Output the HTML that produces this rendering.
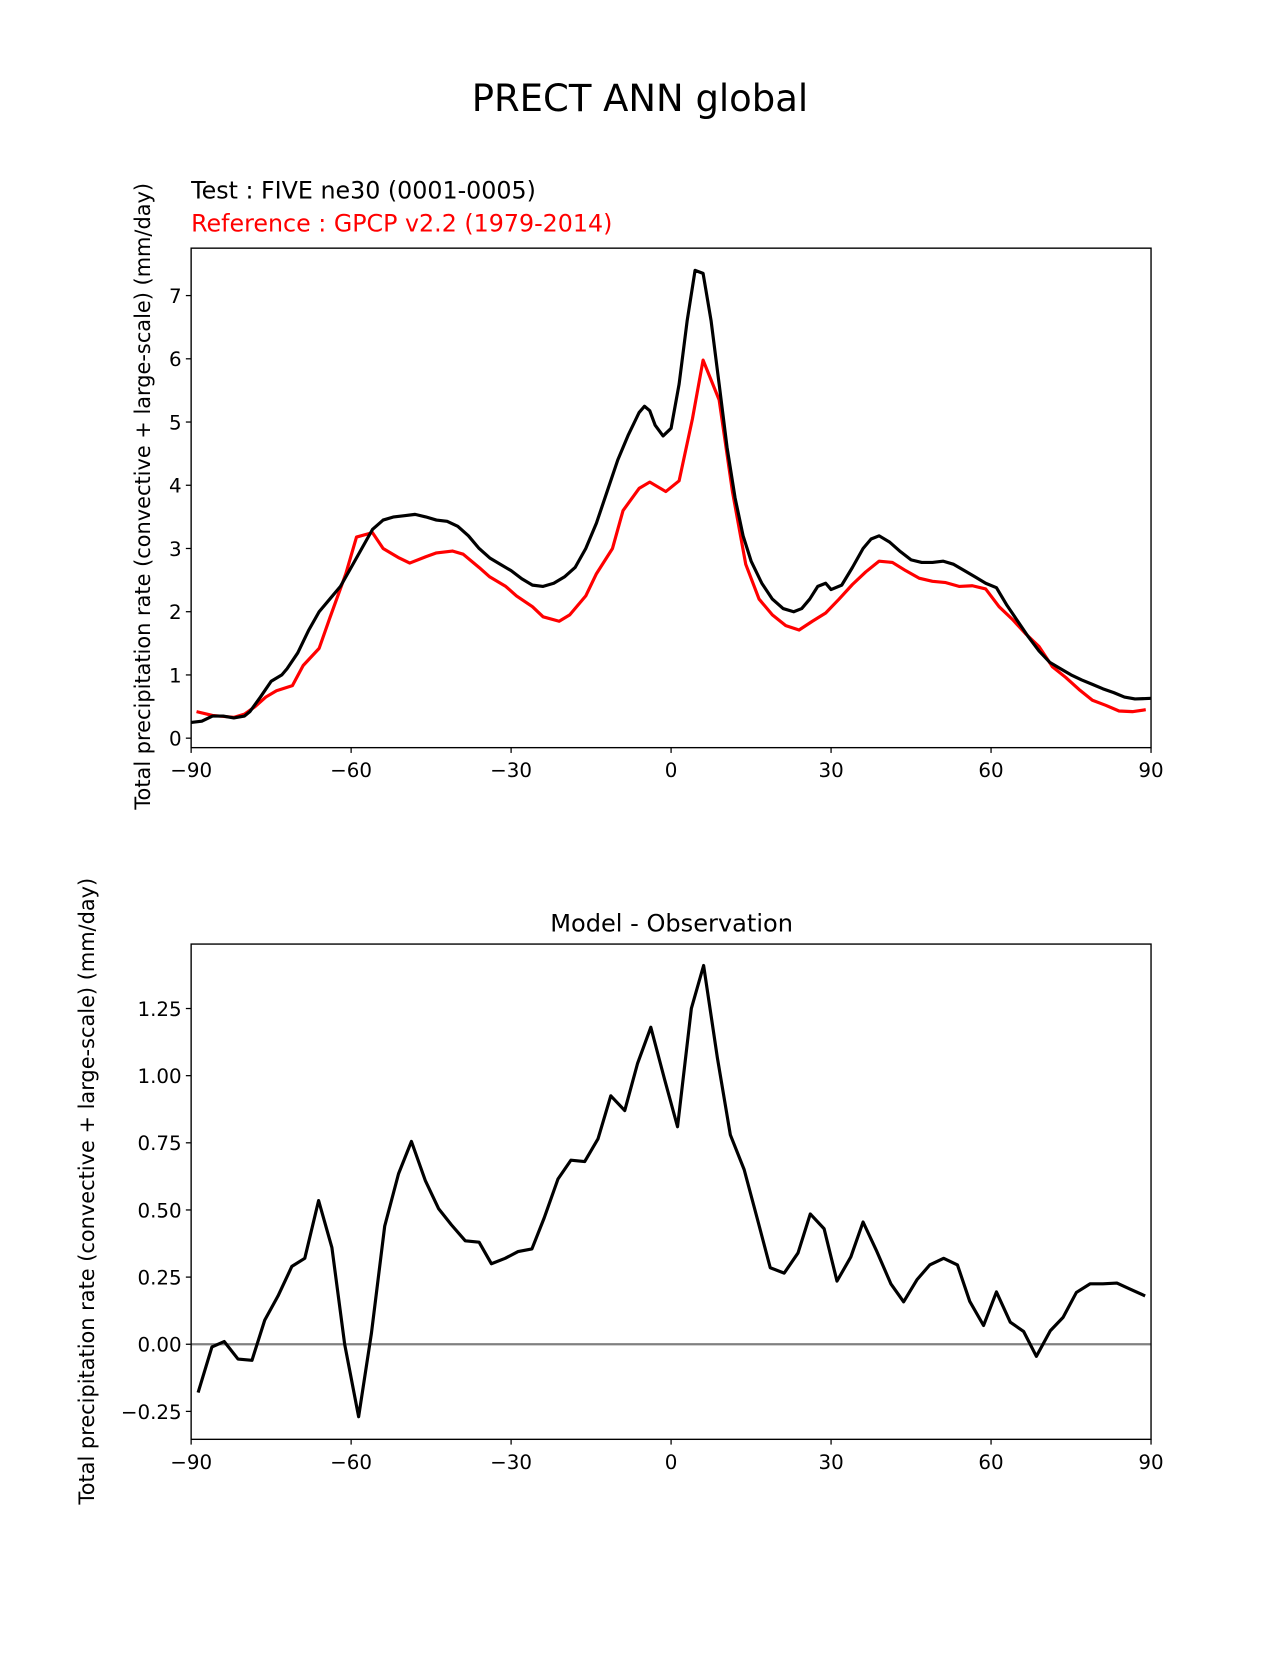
<!DOCTYPE html>
<html><head><meta charset="utf-8"><style>
body{margin:0;background:#fff}
svg text{font-family:"DejaVu Sans","Liberation Sans",sans-serif}
</style></head><body>
<svg id="fig" width="1275" height="1650" viewBox="0 0 1275 1650" xmlns="http://www.w3.org/2000/svg">
<rect width="1275" height="1650" fill="#fff"/>
<g transform="scale(1.056)">
<text x="606" y="105" font-size="35" text-anchor="middle">PRECT ANN global</text>
<text x="181" y="188" font-size="22.5">Test : FIVE ne30 (0001-0005)</text>
<text x="181" y="219" font-size="22.5" fill="#ff0000">Reference : GPCP v2.2 (1979-2014)</text>
<text transform="translate(142,470) rotate(-90)" font-size="19.8" text-anchor="middle">Total precipitation rate (convective + large-scale) (mm/day)</text>
<text x="636" y="882" font-size="22.8" text-anchor="middle">Model - Observation</text>
<text transform="translate(89,1128) rotate(-90)" font-size="19.8" text-anchor="middle">Total precipitation rate (convective + large-scale) (mm/day)</text>
<g id="top"></g><g id="bot"></g>
</g>
</svg>
<script>
const testLat=[-90,-88,-86,-84,-82,-80,-79,-77,-75,-73,-72,-70,-68,-66,-64,-62,-60,-58,-56,-54,-52,-50,-48,-46,-44,-42,-40,-38,-36,-34,-32,-30,-28,-26,-24,-22,-20,-18,-16,-14,-12,-10,-8,-6,-5,-4,-3,-1.5,0,1.5,3,4.5,6,7.5,9,10.5,12,13.5,15,17,19,21,23,24.5,26,27.5,29,30,32,34,36,37.5,39,41,43,45,47,49,51,53,55,57,59,61,63,65,67,69,71,73,75,77,79,81,83,85,87,90];
const testVal=[0.25,0.27,0.35,0.35,0.32,0.35,0.42,0.65,0.9,1.0,1.1,1.35,1.7,2.0,2.2,2.4,2.7,3.0,3.3,3.45,3.5,3.52,3.54,3.5,3.45,3.43,3.35,3.2,3.0,2.85,2.75,2.65,2.52,2.42,2.4,2.45,2.55,2.7,3.0,3.4,3.9,4.4,4.8,5.15,5.25,5.18,4.95,4.78,4.9,5.6,6.6,7.4,7.35,6.6,5.6,4.6,3.8,3.2,2.8,2.45,2.2,2.05,2.0,2.05,2.2,2.4,2.45,2.35,2.42,2.7,3.0,3.15,3.2,3.1,2.95,2.82,2.78,2.78,2.8,2.75,2.65,2.55,2.45,2.38,2.1,1.85,1.6,1.38,1.2,1.1,1.0,0.92,0.85,0.78,0.72,0.65,0.62,0.63];
const refLat=[-89,-86,-82,-80,-78,-76,-74,-71,-69,-66,-64,-61,-59,-56,-54,-51,-49,-46,-44,-41,-39,-36,-34,-31,-29,-26,-24,-21,-19,-16,-14,-11,-9,-6,-4,-1,1.5,4,6,9,11.5,14,16.5,19,21.5,24,26.5,29,31.5,34,36.5,39,41.5,44,46.5,49,51.5,54,56.5,59,61.5,64,66.5,69,71.5,74,76.5,79,81.5,84,86.5,89];
const refVal=[0.42,0.36,0.33,0.38,0.5,0.65,0.75,0.83,1.15,1.42,1.9,2.6,3.18,3.25,3.0,2.85,2.77,2.87,2.93,2.96,2.91,2.7,2.55,2.4,2.25,2.08,1.92,1.85,1.95,2.25,2.6,3.0,3.6,3.95,4.05,3.9,4.07,5.05,5.98,5.35,3.9,2.75,2.2,1.95,1.78,1.71,1.85,1.98,2.2,2.43,2.63,2.8,2.78,2.65,2.53,2.48,2.46,2.4,2.41,2.36,2.08,1.88,1.65,1.45,1.13,0.96,0.77,0.6,0.52,0.43,0.42,0.45];
const diffLat=[-88.7,-86.1,-83.8,-81.2,-78.6,-76.2,-73.7,-71.1,-68.7,-66.1,-63.6,-61.2,-58.6,-56.2,-53.7,-51.1,-48.7,-46.1,-43.6,-41.2,-38.6,-36.0,-33.7,-31.1,-28.7,-26.1,-23.8,-21.2,-18.8,-16.2,-13.7,-11.3,-8.7,-6.3,-3.8,-1.2,1.2,3.8,6.1,8.7,11.1,13.7,16.2,18.6,21.2,23.8,26.1,28.7,31.1,33.7,36.0,38.6,41.2,43.6,46.1,48.5,51.1,53.7,56.0,58.6,61.0,63.6,66.1,68.5,71.1,73.5,76.0,78.6,81.0,83.6,86.1,88.9];
const diffVal=[-0.18,-0.01,0.01,-0.055,-0.06,0.09,0.18,0.29,0.32,0.535,0.36,0.0,-0.27,0.04,0.44,0.635,0.755,0.61,0.505,0.445,0.385,0.38,0.30,0.32,0.345,0.355,0.47,0.615,0.685,0.68,0.765,0.925,0.87,1.045,1.18,0.985,0.81,1.25,1.41,1.065,0.78,0.65,0.465,0.285,0.265,0.34,0.485,0.43,0.235,0.325,0.455,0.345,0.225,0.158,0.24,0.295,0.32,0.295,0.16,0.07,0.195,0.082,0.048,-0.045,0.05,0.1,0.193,0.225,0.225,0.228,0.205,0.18];
const xTicks=[-90,-60,-30,0,30,60,90];
const xTickLabels=["\u221290","\u221260","\u221230","0","30","60","90"];
const topYTicks=[0,1,2,3,4,5,6,7];
const botYTicks=[-0.25,0,0.25,0.5,0.75,1.0,1.25];
const botYTickLabels=["\u22120.25","0.00","0.25","0.50","0.75","1.00","1.25"];
const NS='http://www.w3.org/2000/svg';
function mk(p,t,a){const e=document.createElementNS(NS,t);for(const k in a)e.setAttribute(k,a[k]);p.appendChild(e);return e;}
function panel(g,top,bot,ymin,ymax,yt,ytl,series,zero){
  const L=181,R=1090;
  const x=v=>L+(v+90)/180*(R-L);
  const y=v=>bot-(v-ymin)/(ymax-ymin)*(bot-top);
  if(zero){const z=mk(g,'line',{x1:L,x2:R,y1:y(0),y2:y(0),stroke:'#808080','stroke-width':2.2});
    
    }
  series.forEach(s=>{
    const d=s.lat.map((v,i)=>(i?'L':'M')+x(v).toFixed(1)+','+y(s.val[i]).toFixed(1)).join('');
    const p=mk(g,'path',{d:d,fill:'none',stroke:s.c,'stroke-width':3,'stroke-linejoin':'round'});
    
    
  });
  const f=mk(g,'rect',{x:L,y:top,width:R-L,height:bot-top,fill:'none',stroke:'#000','stroke-width':1.3});
  
  
  xTicks.forEach((v,i)=>{
    mk(g,'line',{x1:x(v),x2:x(v),y1:bot,y2:bot+5,stroke:'#000','stroke-width':1.2});
    const t=mk(g,'text',{x:x(v),y:bot+28,'font-size':18.8,'text-anchor':'middle'});t.textContent=xTickLabels[i];
    
    
  });
  yt.forEach((v,i)=>{
    mk(g,'line',{x1:L-5,x2:L,y1:y(v),y2:y(v),stroke:'#000','stroke-width':1.2});
    const t=mk(g,'text',{x:L-9,y:y(v)+7,'font-size':18.8,'text-anchor':'end'});t.textContent=ytl?ytl[i]:String(v);
    
    
  });
}
panel(document.getElementById('top'),235,708,-0.15,7.75,topYTicks,null,
  [{lat:refLat,val:refVal,c:'#ff0000',n:'reference-line'},{lat:testLat,val:testVal,c:'#000',n:'test-line'}],false);
panel(document.getElementById('bot'),894,1363,-0.354,1.49,botYTicks,botYTickLabels,
  [{lat:diffLat,val:diffVal,c:'#000',n:'difference-line'}],true);
</script>
</body></html>
